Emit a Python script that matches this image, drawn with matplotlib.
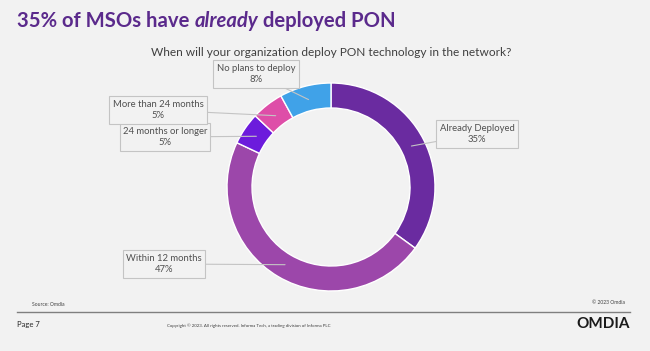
import matplotlib
matplotlib.use("Agg")
import matplotlib.pyplot as plt
import numpy as np

# data
categories = ["Already Deployed", "Within 12 months", "24 months or longer",
              "More than 24 months", "No plans to deploy"]
shares = [35, 47, 5, 5, 8]
colors = ["#6a2ba0", "#9c47aa", "#6c1bdc", "#de4ea8", "#40a2e8"]

# label box centres (px, from top-left) for each slice
label_pos = [(477, 134), (164, 264), (165, 137), (158, 110), (256, 74)]

BG = "#f2f2f2"
plt.rcParams["font.family"] = ["Lato", "DejaVu Sans"]

fig = plt.figure(figsize=(6.5, 3.51), dpi=100, facecolor=BG)
ax = fig.add_axes([0, 0, 1, 1])
ax.set_facecolor(BG)

H = 351
cx, cy, r = 331, H - 187, 104
width = 25

wedges, _ = ax.pie(shares, colors=colors, startangle=90, counterclock=False,
                   center=(cx, cy), radius=r, frame=True,
                   wedgeprops=dict(width=width, edgecolor="white", linewidth=1.0))
ax.set_xlim(0, 650)
ax.set_ylim(0, 351)
ax.set_aspect("equal")
ax.axis("off")

# callout labels
for w, name, val, (lx, ly) in zip(wedges, categories, shares, label_pos):
    ang = np.deg2rad((w.theta1 + w.theta2) / 2)
    rr = r - width * 0.55
    px, py = cx + rr * np.cos(ang), cy + rr * np.sin(ang)
    ax.annotate(f"{name}\n{val}%", xy=(px, py), xytext=(lx, H - ly),
                ha="center", va="center", fontsize=6.8, color="#505050",
                linespacing=1.35,
                bbox=dict(boxstyle="square,pad=0.35", fc=BG, ec="#c4c4c4", lw=0.8),
                arrowprops=dict(arrowstyle="-", color="#c4c4c4", lw=0.8,
                                shrinkA=0, shrinkB=0))

# title in three pieces so "already" can be italic
purple = "#5b2a8c"
tsize = 14.6
t1 = ax.text(17, H - 27, "35% of MSOs have ", fontsize=tsize, fontweight="bold",
             color=purple, va="baseline")
t2 = ax.annotate("already", xy=(1, 0), xycoords=t1, fontsize=tsize,
                 fontweight="bold", fontstyle="italic", color=purple, va="bottom")
ax.annotate(" deployed PON", xy=(1, 0), xycoords=t2, fontsize=tsize,
            fontweight="bold", color=purple, va="bottom")

ax.text(331, H - 52, "When will your organization deploy PON technology in the network?",
        ha="center", va="center", fontsize=8.6, color="#404040")

# footer
ax.plot([17, 630], [H - 312, H - 312], color="#7f7f7f", lw=1)
ax.text(32, H - 305, "Source: Omdia", fontsize=3.6, color="#404040", va="center")
ax.text(625, H - 302, "\u00a9 2023 Omdia", fontsize=3.6, color="#404040",
        va="center", ha="right")
ax.text(17, H - 325, "Page 7", fontsize=5.5, color="#262626", va="center")
ax.text(167, H - 326, "Copyright \u00a9 2023. All rights reserved. Informa Tech, "
        "a trading division of Informa PLC", fontsize=3.2, color="#404040",
        va="center")
ax.text(630, H - 324, "OMDIA", fontsize=11, fontweight="bold", color="#1a1a1a",
        va="center", ha="right")

fig.savefig("out.png", dpi=100, facecolor=BG)
